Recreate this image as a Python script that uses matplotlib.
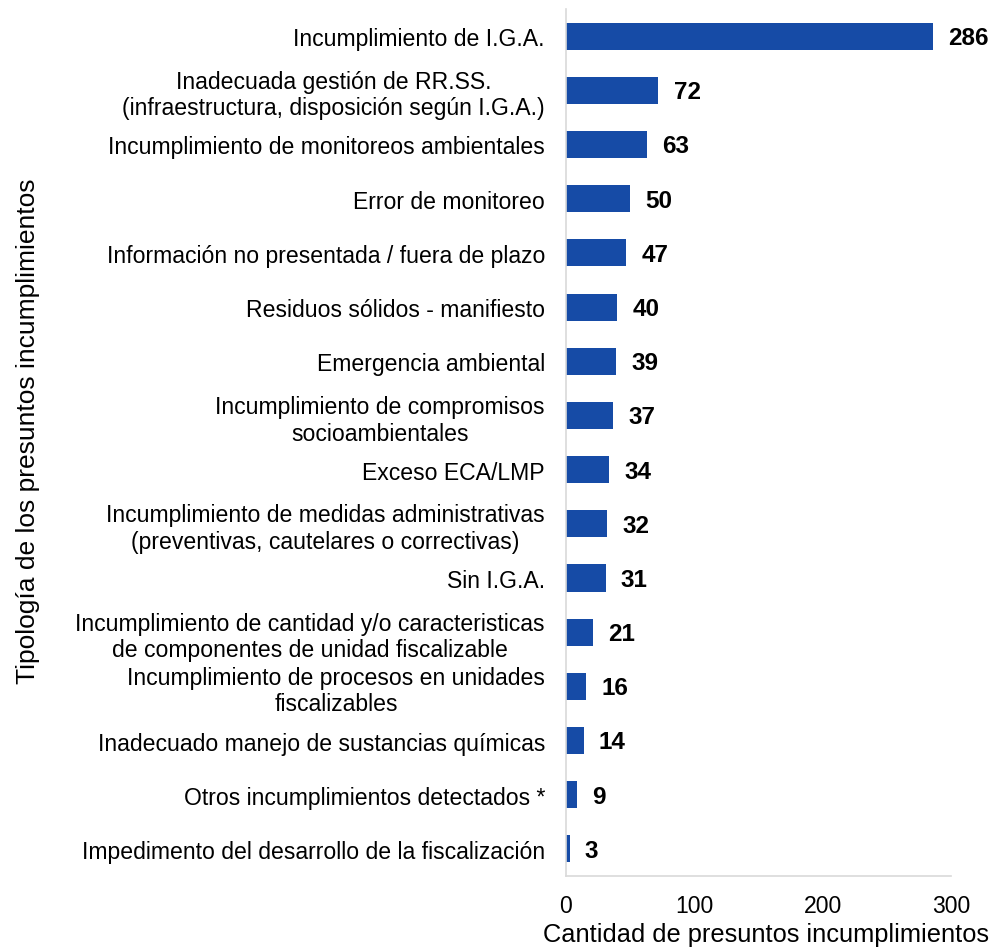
import matplotlib
matplotlib.use("Agg")
import matplotlib.pyplot as plt

categories = [
    "Incumplimiento de I.G.A.",
    "Inadecuada gestión de RR.SS.\n(infraestructura, disposición según I.G.A.)",
    "Incumplimiento de monitoreos ambientales",
    "Error de monitoreo",
    "Información no presentada / fuera de plazo",
    "Residuos sólidos - manifiesto",
    "Emergencia ambiental",
    "Incumplimiento de compromisos\nsocioambientales",
    "Exceso ECA/LMP",
    "Incumplimiento de medidas administrativas\n(preventivas, cautelares o correctivas)",
    "Sin I.G.A.",
    "Incumplimiento de cantidad y/o caracteristicas\nde componentes de unidad fiscalizable",
    "Incumplimiento de procesos en unidades\nfiscalizables",
    "Inadecuado manejo de sustancias químicas",
    "Otros incumplimientos detectados *",
    "Impedimento del desarrollo de la fiscalización",
]
values = [286, 72, 63, 50, 47, 40, 39, 37, 34, 32, 31, 21, 16, 14, 9, 3]
xticks = [0, 100, 200, 300]

plt.rcParams['font.family'] = ['Liberation Sans', 'DejaVu Sans']

fig = plt.figure(figsize=(9.96, 9.53), dpi=100)
ax = fig.add_axes([0.568, 0.0797, 0.387, 0.9098])

y = list(range(len(categories)))
ax.barh(y, values, height=0.5, color='#164ba6')
ax.set_ylim(len(categories) - 0.5, -0.5)
ax.set_xlim(0, 300)

for yi, v in zip(y, values):
    ax.annotate(str(v), (v, yi), xytext=(11, -1), textcoords='offset points',
                ha='left', va='center', fontsize=17.5, fontweight='bold', color='black')

ax.set_yticks(y)
ax.set_yticklabels(categories, fontsize=16.6, multialignment='center')
ax.set_xticks(xticks)
ax.set_xticklabels([str(t) for t in xticks], fontsize=16.6)
ax.tick_params(axis='y', length=0, pad=15)
ax.tick_params(axis='x', length=0, pad=13)

for s in ['top', 'right']:
    ax.spines[s].set_visible(False)
ax.spines['left'].set_color('#d9d9d9')
ax.spines['bottom'].set_color('#d9d9d9')
ax.spines['left'].set_linewidth(1.2)
ax.spines['bottom'].set_linewidth(1.2)

ax.set_xlabel("Cantidad de presuntos incumplimientos", fontsize=18.3)
ax.xaxis.set_label_coords(0.52, -0.0535)
fig.text(0.028, 0.547, "Tipología de los presuntos incumplimientos", rotation=90,
         ha='center', va='center', fontsize=19)

fig.savefig("out.png", dpi=100)
